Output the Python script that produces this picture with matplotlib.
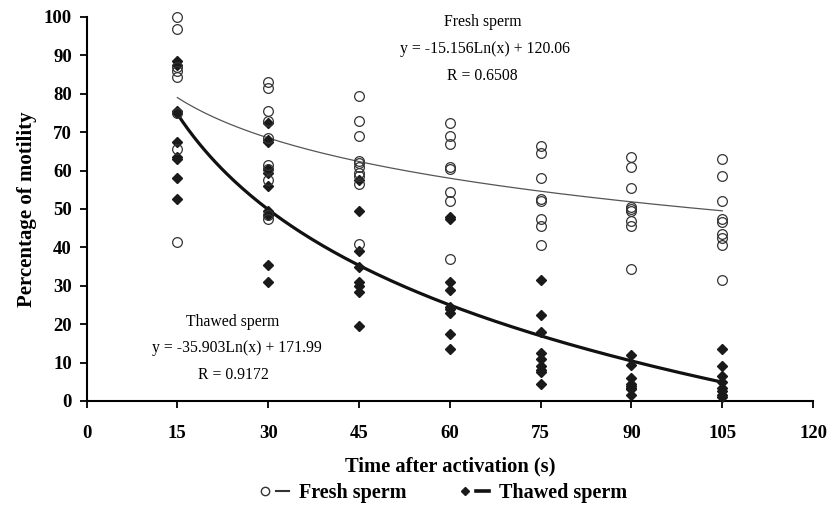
import numpy as np
import matplotlib
matplotlib.use('Agg')
import matplotlib.pyplot as plt
from matplotlib.lines import Line2D
from matplotlib.legend_handler import HandlerTuple

plt.rcParams['font.family'] = ['Liberation Serif', 'DejaVu Serif']

# time after activation (s)
times = [15, 30, 45, 60, 75, 90, 105]

# motility readings per time point
fresh = {
    15: [100, 97, 87, 86, 84.5, 75, 65.5, 41.5],
    30: [83, 81.5, 75.5, 73, 68.5, 61.5, 60.5, 57.5, 48.5, 47.5],
    45: [79.5, 73, 69, 62.5, 62, 61, 59.5, 58.5, 56.5, 41],
    60: [72.5, 69, 67, 61, 60.5, 54.5, 52, 37],
    75: [66.5, 64.5, 58, 52.5, 52, 47.5, 45.5, 40.5],
    90: [63.5, 61, 55.5, 50.5, 50, 49.5, 47, 45.5, 34.5],
    105: [63, 58.5, 52, 47.5, 46.5, 43.5, 42.5, 40.5, 31.5],
}
thawed = {
    15: [88.5, 87.5, 75.5, 75, 67.5, 63.5, 63, 58, 52.5],
    30: [72.5, 68, 67.5, 60.5, 59.5, 56, 49.5, 48.5, 35.5, 31],
    45: [57.5, 49.5, 39, 35, 31, 30, 28.5, 19.5],
    60: [48, 47.5, 31, 29, 24.5, 24, 23, 17.5, 13.5],
    75: [31.5, 22.5, 18, 12.5, 11, 9, 8, 7.5, 4.5],
    90: [12, 9.5, 6, 4.5, 4, 3.5, 3, 1.5],
    105: [13.5, 9, 6.5, 5, 3.5, 2.5, 1.5, 1],
}

# logarithmic trend lines: y = a*ln(x) + b
fresh_fit = (-15.156, 120.06)
thawed_fit = (-35.903, 171.99)

fig = plt.figure(figsize=(8.28, 5.12), dpi=100)
ax = fig.add_axes([0.1045, 0.2168, 0.8775, 0.75])

xs = np.linspace(15, 105, 200)
ax.plot(xs, fresh_fit[0] * np.log(xs) + fresh_fit[1], color='#555555', lw=0.9, zorder=2)
ax.plot(xs, thawed_fit[0] * np.log(xs) + thawed_fit[1], color='#111111', lw=2.3, zorder=2)

for t in times:
    ax.plot([t] * len(thawed[t]), thawed[t], 'D', ms=5, color='#1a1a1a', ls='none',
            zorder=3, clip_on=False)
    ax.plot([t] * len(fresh[t]), fresh[t], 'o', ms=7, mfc='none', mec='#333333', mew=0.9,
            ls='none', zorder=4, clip_on=False)

ax.set_xlim(0, 120)
ax.set_ylim(0, 100)
ax.set_xticks(range(0, 121, 15))
ax.set_yticks(range(0, 101, 10))
for s in ['top', 'right']:
    ax.spines[s].set_visible(False)
for s in ['left', 'bottom']:
    ax.spines[s].set_linewidth(1.5)
ax.tick_params(direction='out', length=5, width=1.3, labelsize=13.5)
ax.tick_params(axis='x', pad=12)
ax.tick_params(axis='y', pad=5.5)
for lab in ax.get_xticklabels() + ax.get_yticklabels():
    lab.set_fontweight('bold')

ax.set_xlabel('Time after activation (s)', fontsize=14.8, fontweight='bold', labelpad=11)
ax.set_ylabel('Percentage of motility', fontsize=15, fontweight='bold', labelpad=5)

# trend line labels
ax.text(65.5, 98.8, 'Fresh sperm', ha='center', va='center', fontsize=11.3)
ax.text(65.8, 91.6, 'y = -15.156Ln(x) + 120.06', ha='center', va='center', fontsize=11.3)
ax.text(65.3, 84.6, 'R = 0.6508', ha='center', va='center', fontsize=11.3)
ax.text(24.2, 20.5, 'Thawed sperm', ha='center', va='center', fontsize=11.3)
ax.text(24.8, 13.8, 'y = -35.903Ln(x) + 171.99', ha='center', va='center', fontsize=11.3)
ax.text(24.2, 6.7, 'R = 0.9172', ha='center', va='center', fontsize=11.3)

h_fresh = (Line2D([], [], marker='o', ms=6, mfc='none', mec='#333333', ls='none'),
           Line2D([], [], color='#333333', lw=1.5))
h_thawed = (Line2D([], [], marker='D', ms=4.5, color='#1a1a1a', ls='none'),
            Line2D([], [], color='#111111', lw=2.6))
fig.legend([h_fresh, h_thawed], ['Fresh sperm', 'Thawed sperm'],
           handler_map={tuple: HandlerTuple(ndivide=None, pad=0.2)},
           loc='lower center', bbox_to_anchor=(0.535, 0.0), ncol=2, frameon=False,
           prop={'weight': 'bold', 'size': 14.5}, handlelength=1.5, columnspacing=2.6,
           handletextpad=0.5, borderaxespad=0.05)

fig.savefig('out.png', dpi=100)
